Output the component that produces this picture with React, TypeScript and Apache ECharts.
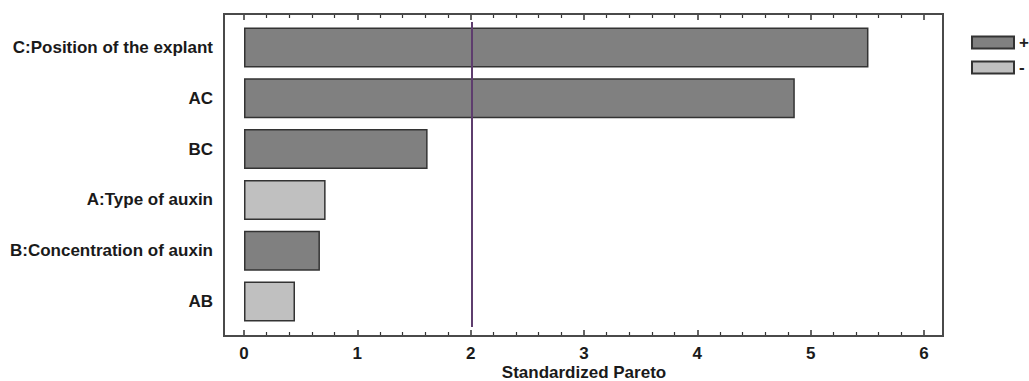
import React, { useEffect, useRef } from "react";
import * as echarts from "echarts";

const categories = [
  "C:Position of the explant",
  "AC",
  "BC",
  "A:Type of auxin",
  "B:Concentration of auxin",
  "AB",
];
const effects = [5.51, 4.86, 1.62, 0.72, 0.67, 0.45];
const signs = ["+", "+", "+", "-", "+", "-"];
const xTicks = [0, 1, 2, 3, 4, 5, 6];
const criticalValue = 2.01;
const legendNames = ["+", "-"];

const FONT = "'Liberation Sans', Arial, sans-serif";

export default function App() {
  const ref = useRef<HTMLDivElement>(null);
  useEffect(() => {
    if (!ref.current) return;
    const chart = echarts.init(ref.current, null, { renderer: "svg" });
    const plusData = effects.map((v, i) => (signs[i] === "+" ? v : null));
    const minusData = effects.map((v, i) => (signs[i] === "-" ? v : null));
    const xMin = xTicks[0];
    const xMax = xTicks[xTicks.length - 1];
    const common = {
      type: "value",
      min: xMin,
      max: xMax,
      interval: 1,
      splitLine: { show: false },
      axisLine: { show: false },
      axisTick: { show: true, inside: true, length: 6, lineStyle: { color: "#333", width: 1.5 } },
      minorTick: { show: true, splitNumber: 5, length: 4, lineStyle: { color: "#333", width: 1.2 } },
      minorSplitLine: { show: false },
    };
    chart.setOption({
      animation: false,
      textStyle: { fontFamily: FONT },
      grid: {
        left: 244,
        right: 105,
        top: 22,
        height: 305,
        containLabel: false,
        outerBoundsMode: "none",
      },
      legend: {
        orient: "vertical",
        left: 966,
        top: 29,
        itemWidth: 42,
        itemHeight: 12,
        itemGap: 8,
        icon: "rect",
        data: legendNames,
        textStyle: { fontFamily: FONT, fontWeight: "bold", fontSize: 17, lineHeight: 12, color: "#222" },
      },
      xAxis: [
        {
          ...common,
          position: "bottom",
          offset: 9,
          axisLabel: { show: true, margin: 9, fontFamily: FONT, fontWeight: "bold", fontSize: 17, color: "#1a1a1a" },
          name: "Standardized Pareto",
          nameLocation: "middle",
          nameGap: 28,
          nameMoveOverlap: false,
          nameTextStyle: { fontFamily: FONT, fontWeight: "bold", fontSize: 17, color: "#1a1a1a", verticalAlign: "top" },
        },
        {
          ...common,
          position: "top",
          offset: 8,
          axisLabel: { show: false },
        },
      ],
      yAxis: {
        type: "category",
        data: categories,
        inverse: true,
        axisLine: { show: false },
        axisTick: { show: false },
        axisLabel: { margin: 31, fontFamily: FONT, fontWeight: "bold", fontSize: 17, color: "#1a1a1a" },
      },
      graphic: [
        {
          type: "rect",
          shape: { x: 224, y: 14, width: 719, height: 322 },
          style: { fill: "none", stroke: "#4a4a4a", lineWidth: 2 },
          silent: true,
          z: 10,
        },
      ],
      series: [
        {
          name: "+",
          type: "bar",
          data: plusData,
          barWidth: 40,
          barGap: "-100%",
          itemStyle: { color: "#808080", borderColor: "#333", borderWidth: 1.5 },
          markLine: {
            silent: true,
            symbol: "none",
            label: { show: false },
            lineStyle: { color: "#5e3d6e", width: 2, type: "solid" },
            data: [{ xAxis: criticalValue }],
          },
        },
        {
          name: "-",
          type: "bar",
          data: minusData,
          barWidth: 40,
          barGap: "-100%",
          itemStyle: { color: "#c0c0c0", borderColor: "#333", borderWidth: 1.5 },
        },
      ],
    });
    return () => chart.dispose();
  }, []);
  return (
    <div
      ref={ref}
      style={{ position: "absolute", left: 0, top: 0, width: 1029, height: 381, background: "#fff" }}
    />
  );
}
